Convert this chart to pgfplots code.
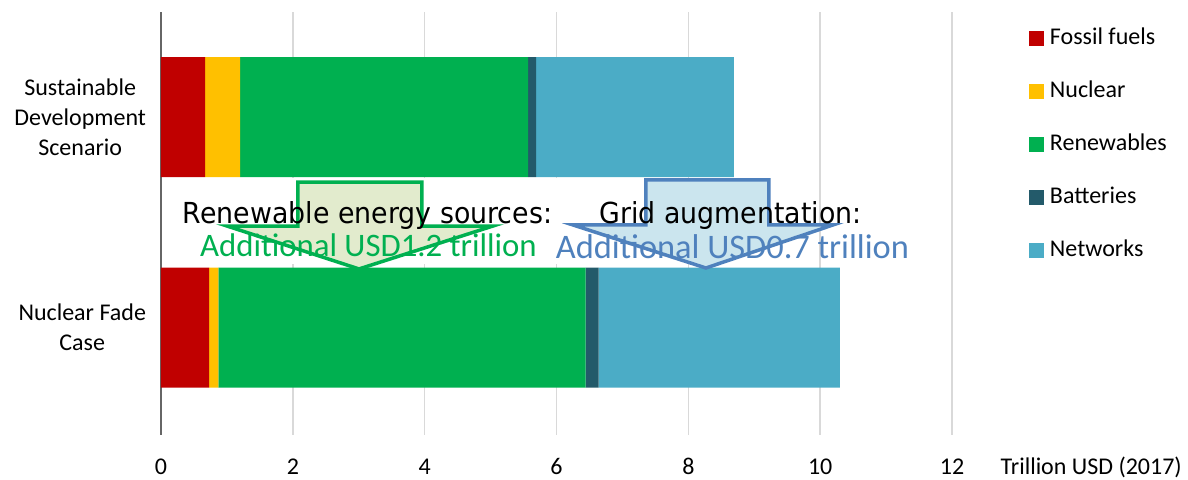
\documentclass[border=0pt]{standalone}
\usepackage{fontspec}
\setmainfont{Carlito}
\newfontfamily\dejavu{DejaVu Sans}
\usepackage{pgfplots}
\pgfplotsset{compat=1.18}
\definecolor{cFossil}{HTML}{C00000}
\definecolor{cNuclear}{HTML}{FFC000}
\definecolor{cRenew}{HTML}{00B050}
\definecolor{cBatt}{HTML}{235A6A}
\definecolor{cNet}{HTML}{4BACC6}
\definecolor{cGfill}{HTML}{E2EBCD}
\definecolor{cBline}{HTML}{4F81BD}
\definecolor{cBfill}{HTML}{CBE5EE}
\begin{document}
\begin{tikzpicture}
\useasboundingbox (0,0) rectangle (594pt,240pt);
\begin{axis}[
 at={(80.5pt,22.5pt)}, anchor=south west,
 scale only axis, width=395.5pt, height=211.5pt,
 xbar stacked, bar width=60pt,
 xmin=0, xmax=12, ymin=-0.51, ymax=1.5,
 xtick={0,2,...,12}, ytick={0,1},
 yticklabels={{Nuclear Fade\\Case},{Sustainable\\Development\\Scenario}},
 yticklabel style={align=center, font=\fontsize{12}{15}\selectfont, xshift=-4pt},
 xticklabel style={font=\fontsize{12}{14}\selectfont, anchor=base, yshift=-20pt},
 /pgf/number format/assume math mode=true,
 major tick length=0pt,
 xmajorgrids, grid style={color=black!15, line width=0.8pt},
 axis x line*=bottom, axis y line*=left,
 x axis line style={draw=none},
 y axis line style={color=black!60, line width=0.8pt},
 xlabel={Trillion USD (2017)},
 xlabel style={at={(axis description cs:1.061,0)}, anchor=base west, yshift=-20pt, font=\fontsize{12}{14}\selectfont, inner sep=0pt},
 legend style={at={(axis description cs:1.0973,0.963)}, anchor=north west, draw=none, fill=none, inner sep=0pt, outer sep=0pt, row sep=15.5pt, font=\fontsize{12}{14}\selectfont, nodes={inner sep=0pt, text height=8.5pt, text depth=2.5pt}, /tikz/every odd column/.append style={column sep=3pt}},
 legend cell align=left,
 legend image code/.code={\fill[#1] (0pt,-3.75pt) rectangle (7.5pt,3.75pt);},
]
\addplot[fill=cFossil, draw=none] coordinates {(0.73,0) (0.67,1)};
\addplot[fill=cNuclear, draw=none] coordinates {(0.14,0) (0.53,1)};
\addplot[fill=cRenew, draw=none] coordinates {(5.57,0) (4.37,1)};
\addplot[fill=cBatt, draw=none] coordinates {(0.20,0) (0.12,1)};
\addplot[fill=cNet, draw=none] coordinates {(3.66,0) (3.00,1)};
\legend{Fossil fuels, Nuclear, Renewables, Batteries, Networks}
\end{axis}
% annotation overlay in the axis' own units (x: 0..12 over 395.5pt, y: -0.51..1.5 over 211.5pt)
\begin{scope}[x=32.958333pt, y=105.223881pt, shift={(80.5pt,76.164179pt)}]
\fill[white] (0.03,0.3025) rectangle (9.876,0.713);
\draw[cRenew, line width=1.75pt, fill=cGfill, line join=miter] (2.078,0.692) -- (3.959,0.692) -- (3.959,0.483) -- (5.036,0.483) -- (3.004,0.279) -- (1.001,0.483) -- (2.078,0.483) -- cycle;
\draw[cBline, line width=1.75pt, fill=cBfill, line join=miter] (7.357,0.702) -- (9.223,0.702) -- (9.223,0.488) -- (10.194,0.488) -- (8.267,0.2835) -- (6.250,0.488) -- (7.357,0.488) -- cycle;
\node[anchor=base, inner sep=0pt, yscale=1.08, font=\dejavu\fontsize{13.4}{15}\selectfont] at (3.133,0.4926) {Renewable energy sources:};
\node[anchor=base, inner sep=0pt, yscale=1.08, font=\dejavu\fontsize{13.4}{15}\selectfont] at (8.639,0.4926) {Grid augmentation:};
\node[anchor=base, inner sep=0pt, text=cRenew, font=\fontsize{16.4}{18}\selectfont] at (3.148,0.336) {Additional USD1.2 trillion};
\node[anchor=base, inner sep=0pt, text=cBline, font=\fontsize{17.2}{19}\selectfont] at (8.67,0.331) {Additional USD0.7 trillion};
\end{scope}
\end{tikzpicture}
\end{document}
